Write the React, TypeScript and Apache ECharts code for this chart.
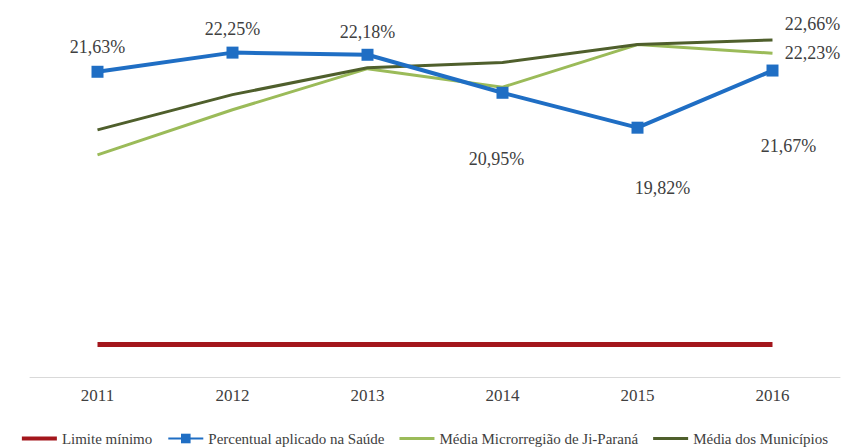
import React, { useEffect, useRef } from "react";
import * as echarts from "echarts";

const years = ["2011", "2012", "2013", "2014", "2015", "2016"];
const limiteMinimo = [12.8, 12.8, 12.8, 12.8, 12.8, 12.8];
const percentualSaude = [21.63, 22.25, 22.18, 20.95, 19.82, 21.67];
const mediaMicrorregiao = [18.94, 20.4, 21.73, 21.13, 22.51, 22.23];
const mediaMunicipios = [19.75, 20.89, 21.76, 21.93, 22.51, 22.66];
const blueLabelOffsets: [number, number][] = [
  [0, -25],
  [0, -24],
  [0, -23],
  [-6, 66],
  [25, 60],
  [16, 75],
];

const fmt = (v: number) => v.toFixed(2).replace(".", ",") + "%";
const FONT = "'Liberation Serif', 'Times New Roman', serif";
const thinIcon = "path://M0,0L35,0L35,3L0,3Z";
const thickIcon = "path://M0,0L35,0L35,4L0,4Z";

export default function App() {
  const ref = useRef<HTMLDivElement>(null);
  useEffect(() => {
    document.body.style.margin = "0";
    if (!ref.current) return;
    const chart = echarts.init(ref.current, null, { renderer: "svg" });
    const last = years.length - 1;
    chart.setOption({
      animation: false,
      backgroundColor: "#ffffff",
      textStyle: { fontFamily: FONT },
      grid: { left: 30, right: 10, top: 14, bottom: 70 },
      xAxis: {
        type: "category",
        data: years,
        boundaryGap: true,
        axisLine: { lineStyle: { color: "#d9d9d9", width: 1 } },
        axisTick: { show: false },
        axisLabel: { color: "#404040", fontSize: 17, fontFamily: FONT, margin: 10 },
      },
      yAxis: {
        type: "value",
        min: 11.75,
        max: 23.5,
        show: false,
        splitLine: { show: false },
      },
      legend: {
        left: "center",
        top: 426,
        itemWidth: 35,
        itemHeight: 12,
        itemGap: 15,
        textStyle: { color: "#404040", fontSize: 15, fontFamily: FONT },
        data: [
          { name: "Limite mínimo", icon: thickIcon },
          { name: "Percentual aplicado na Saúde" },
          { name: "Média Microrregião de Ji-Paraná", icon: thinIcon },
          { name: "Média dos Municípios", icon: thinIcon },
        ],
      },
      series: [
        {
          name: "Limite mínimo",
          type: "line",
          data: limiteMinimo,
          symbol: "none",
          lineStyle: { color: "#a3161c", width: 5 },
          itemStyle: { color: "#a3161c" },
          z: 1,
        },
        {
          name: "Média Microrregião de Ji-Paraná",
          type: "line",
          symbol: "none",
          data: mediaMicrorregiao.map((v, i) =>
            i === last
              ? {
                  value: v,
                  symbol: "circle",
                  symbolSize: 0,
                  label: {
                    show: true,
                    position: "inside",
                    offset: [40, 0],
                    formatter: () => fmt(v),
                    color: "#404040",
                    fontSize: 18,
                    fontFamily: FONT,
                  },
                }
              : v
          ),
          lineStyle: { color: "#9bbb59", width: 3 },
          itemStyle: { color: "#9bbb59" },
          z: 2,
        },
        {
          name: "Média dos Municípios",
          type: "line",
          symbol: "none",
          data: mediaMunicipios.map((v, i) =>
            i === last
              ? {
                  value: v,
                  symbol: "circle",
                  symbolSize: 0,
                  label: {
                    show: true,
                    position: "inside",
                    offset: [40, -16],
                    formatter: () => fmt(v),
                    color: "#404040",
                    fontSize: 18,
                    fontFamily: FONT,
                  },
                }
              : v
          ),
          lineStyle: { color: "#4f5f2c", width: 3 },
          itemStyle: { color: "#4f5f2c" },
          z: 3,
        },
        {
          name: "Percentual aplicado na Saúde",
          type: "line",
          symbol: "rect",
          symbolSize: 12,
          data: percentualSaude.map((v, i) => ({
            value: v,
            label: {
              show: true,
              position: "inside",
              offset: blueLabelOffsets[i],
              formatter: () => fmt(v),
              color: "#404040",
              fontSize: 18,
              fontFamily: FONT,
            },
          })),
          lineStyle: { color: "#1f6ec4", width: 4 },
          itemStyle: { color: "#1f6ec4" },
          z: 4,
        },
      ],
    });
    return () => chart.dispose();
  }, []);
  return (
    <div
      ref={ref}
      style={{ width: 850, height: 447, position: "absolute", left: 0, top: 0 }}
    />
  );
}
